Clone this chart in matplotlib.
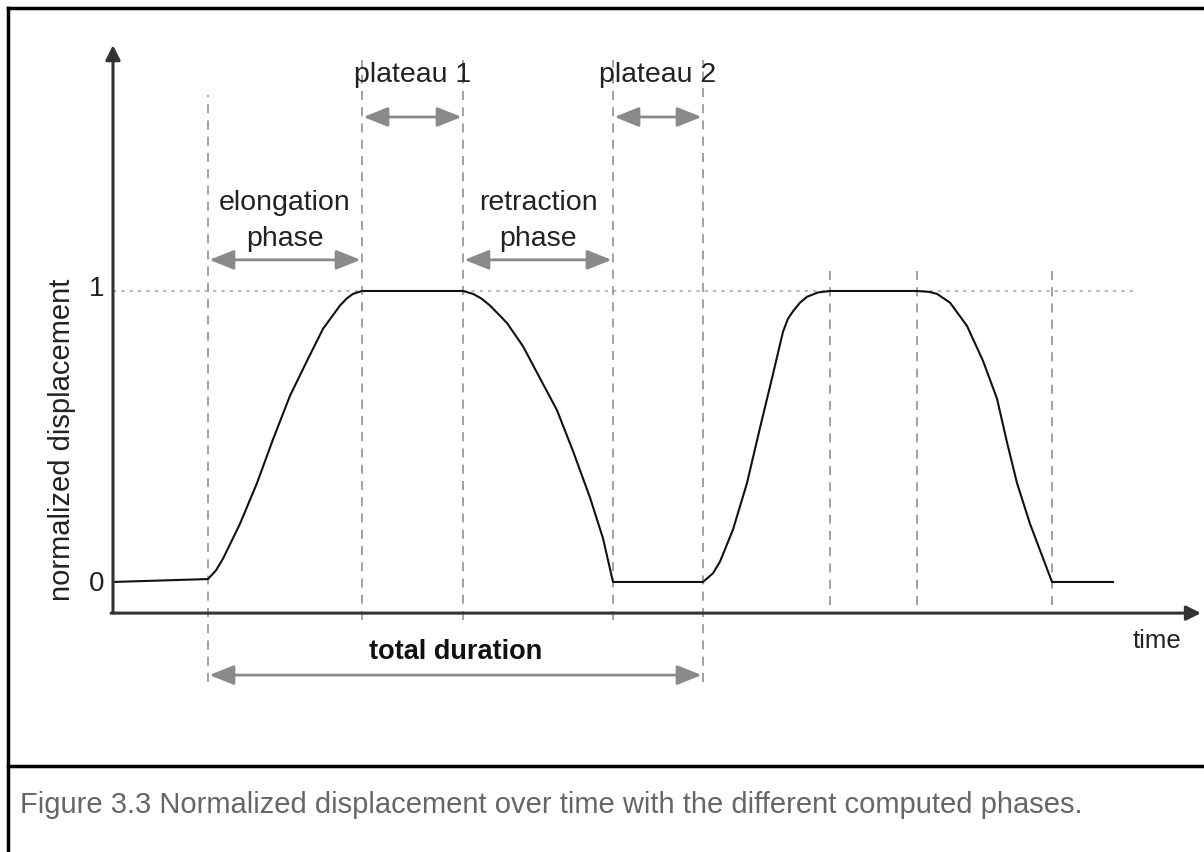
import matplotlib
matplotlib.use('Agg')
import matplotlib.pyplot as plt
from matplotlib.lines import Line2D

plt.rcParams['font.family'] = ['Liberation Sans', 'DejaVu Sans']

# displacement curve (time in arbitrary units, displacement normalized)
time = [0.00, 0.95, 1.03, 1.10, 1.27, 1.44, 1.60, 1.77, 1.94, 2.10, 2.27, 2.34, 2.40, 2.49,
        3.50, 3.60, 3.68, 3.77, 3.94, 4.10, 4.27, 4.44, 4.60, 4.77, 4.90, 5.00,
        5.90, 6.00, 6.07, 6.20, 6.34, 6.47, 6.59, 6.70, 6.75, 6.80, 6.87, 6.94, 7.05, 7.17,
        8.04, 8.16, 8.24, 8.37, 8.54, 8.70, 8.84, 8.94, 9.04, 9.17, 9.39, 10.00]
disp = [0.00, 0.01, 0.04, 0.08, 0.20, 0.34, 0.49, 0.64, 0.76, 0.87, 0.95, 0.975, 0.99, 1.00,
        1.00, 0.99, 0.975, 0.95, 0.89, 0.81, 0.70, 0.59, 0.45, 0.29, 0.15, 0.00,
        0.00, 0.03, 0.07, 0.18, 0.34, 0.53, 0.70, 0.86, 0.905, 0.93, 0.96, 0.98, 0.995, 1.00,
        1.00, 0.997, 0.99, 0.96, 0.88, 0.76, 0.63, 0.48, 0.34, 0.20, 0.00, 0.00]

# phase boundaries of the first cycle and the second cycle
cycle1_bounds = [0.95, 2.49, 3.50, 5.00, 5.90]
cycle2_bounds = [7.17, 8.04, 9.39]

phase_labels = ['elongation\nphase', 'plateau 1', 'retraction\nphase', 'plateau 2']
total_label = 'total duration'
caption = 'Figure 3.3 Normalized displacement over time with the different computed phases.'

fig = plt.figure(figsize=(12.04, 8.52), dpi=100)
ax = fig.add_axes([0, 0, 1, 1])
ax.set_xlim(-1.13, 10.91)
ax.set_ylim(-0.928, 2.0)
ax.axis('off')

grey = '#8a8a8a'
dash_col = '#9a9a9a'

# axes with arrows
x0_axis = -0.107
ax.annotate('', xy=(0, 1.845), xytext=(0, x0_axis),
            arrowprops=dict(arrowstyle='-|>', color='#333333', lw=2.2,
                            mutation_scale=22, shrinkA=0, shrinkB=0))
ax.annotate('', xy=(10.88, x0_axis), xytext=(-0.02, x0_axis),
            arrowprops=dict(arrowstyle='-|>', color='#333333', lw=2.2,
                            mutation_scale=22, shrinkA=0, shrinkB=0))

# level 1 reference
ax.plot([0, 10.22], [1.0, 1.0], color='#aaaaaa', lw=1.2, ls=(0, (2, 3)))

# vertical phase lines
tops = [1.674, 1.794, 1.794, 1.794, 1.794]
bottoms = [-0.344, -0.13, -0.13, -0.13, -0.344]
for t, top, bot in zip(cycle1_bounds, tops, bottoms):
    ax.plot([t, t], [bot, top], color=dash_col, lw=1.3, ls=(0, (5, 4)))
for t in cycle2_bounds:
    ax.plot([t, t], [-0.08, 1.08], color=dash_col, lw=1.3, ls=(0, (5, 4)))

# curve
ax.plot(time, disp, color='#111111', lw=1.5, solid_joinstyle='round')

arrow_style = dict(arrowstyle='<|-|>,head_length=0.75,head_width=0.3', color=grey, lw=2,
                   mutation_scale=20, shrinkA=1, shrinkB=1)

# phase arrows
b = cycle1_bounds
spans = [(b[0], b[1], 1.107), (b[1], b[2], 1.598), (b[2], b[3], 1.107), (b[3], b[4], 1.598)]
for (a, c, y), lab in zip(spans, phase_labels):
    ax.annotate('', xy=(c, y), xytext=(a, y), arrowprops=arrow_style)
    ty = 1.241 if '\n' in lab else 1.742
    ax.text((a + c) / 2, ty, lab, ha='center', va='center', fontsize=20.5,
            color='#222222', linespacing=1.5)

ax.annotate('', xy=(b[4], -0.32), xytext=(b[0], -0.32), arrowprops=arrow_style)
ax.text((b[0] + b[4]) / 2, -0.241, total_label, ha='center', va='center',
        fontsize=19.5, fontweight='bold', color='#111111')

ax.text(10.44, -0.203, 'time', ha='center', va='center', fontsize=18.5, color='#222222')
ax.text(-0.16, -0.007, '0', ha='center', va='center', fontsize=20, color='#222222')
ax.text(-0.16, 1.007, '1', ha='center', va='center', fontsize=20, color='#222222')
ax.text(-0.51, 0.488, 'normalized displacement', ha='center', va='center',
        rotation=90, fontsize=21, color='#222222')

# frame and caption
W, H = 1204, 852
fig.add_artist(Line2D([8 / W, 1], [1 - 8 / H, 1 - 8 / H], color='black', lw=2.5))
fig.add_artist(Line2D([8 / W, 8 / W], [0, 1 - 8 / H], color='black', lw=2.5))
fig.add_artist(Line2D([8 / W, 1], [1 - 766 / H, 1 - 766 / H], color='black', lw=2.5))
fig.text(20 / W, 1 - 805 / H, caption, ha='left', va='center', fontsize=21, color='#666666')

fig.savefig('out.png', dpi=100)
